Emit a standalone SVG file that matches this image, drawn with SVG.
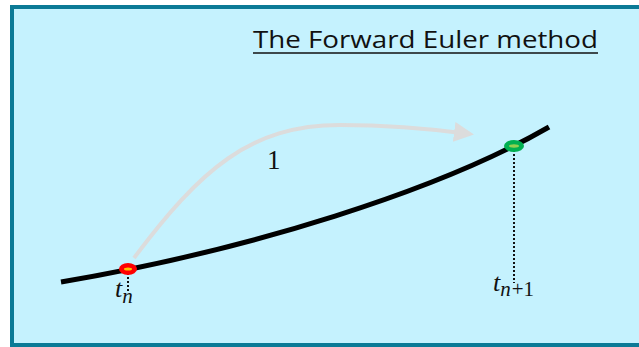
<svg xmlns="http://www.w3.org/2000/svg" width="639" height="347" viewBox="0 0 639 347">
<defs>
<style>
.math{font-family:"Liberation Serif","DejaVu Serif",serif;font-style:italic;fill:#111}
.up{font-family:"Liberation Serif","DejaVu Serif",serif;fill:#111}
.drop{stroke:#111;stroke-width:2;stroke-dasharray:2 2;fill:none}
</style>
<marker id="ah" viewBox="0 0 10 10" refX="8" refY="5" markerWidth="5" markerHeight="5" orient="auto" markerUnits="strokeWidth">
<path d="M0,0 L10,5 L0,10 z" fill="#dcdcdc"/>
</marker>
</defs>
<rect x="0" y="0" width="639" height="347" fill="#ffffff"/>
<rect id="frame" x="12" y="7" width="640" height="338" fill="#c5f2fe" stroke="#0b7a96" stroke-width="4"/>
<g id="title">
<text x="253" y="48" font-family="'Open Sans','Liberation Sans',sans-serif" font-size="24" fill="#111" textLength="345" lengthAdjust="spacingAndGlyphs">The Forward Euler method</text>
<line x1="253" y1="53" x2="598" y2="53" stroke="#111" stroke-width="1.5"/>
</g>
<g id="connectors">
<path id="solution" d="M61,282 C250,250 440,190 549,127" fill="none" stroke="#000" stroke-width="5"/>
<path id="step" d="M134,258 C200,170 250,125 340,125 C400,125 440,130 470,134" fill="none" stroke="#dcdcdc" stroke-width="4" marker-end="url(#ah)"/>
<line class="drop" x1="128" y1="273" x2="128" y2="292"/>
<line class="drop" x1="514" y1="150" x2="514" y2="283"/>
</g>
<g id="label-1"><text class="up" x="267" y="169" font-size="27">1</text></g>
<g id="node-tn">
<ellipse cx="128" cy="269" rx="9" ry="6" fill="#ff0000"/>
<ellipse cx="128" cy="269" rx="4" ry="1.5" fill="#ffc000"/>
<text class="math" x="115" y="297" font-size="26">t<tspan font-size="21" dy="6">n</tspan></text>
</g>
<g id="node-tn1">
<ellipse cx="514" cy="146" rx="10" ry="6" fill="#00b050"/>
<ellipse cx="514" cy="146" rx="5" ry="1.7" fill="#92d050"/>
<text class="math" x="493" y="291" font-size="26">t<tspan font-size="21" dy="5">n</tspan><tspan class="up" font-style="normal" font-size="21" dx="1">+1</tspan></text>
</g>
</svg>
